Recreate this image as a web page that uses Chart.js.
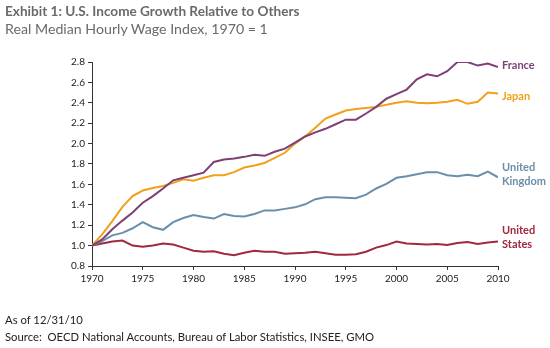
<!DOCTYPE html>
<html><head><meta charset="utf-8">
<script src="https://cdn.jsdelivr.net/npm/chart.js@4"></script>
<style>
html,body{margin:0;padding:0;background:#fff;}
#wrap{position:relative;width:550px;height:348px;overflow:hidden;font-family:Lato,"Open Sans",sans-serif;}
canvas{position:absolute;left:0;top:0;}
.t{position:absolute;left:5px;white-space:nowrap;}
</style></head>
<body><div id="wrap">
<canvas id="c" width="550" height="348"></canvas>
<div class="t" style="top:3px;font-size:13.6px;font-weight:bold;color:#6a6a6a;">Exhibit 1: U.S. Income Growth Relative to Others</div>
<div class="t" style="top:20px;font-size:14.2px;color:#6a6a6a;">Real Median Hourly Wage Index, 1970 = 1</div>
<div class="t" style="top:313px;font-size:11.3px;color:#222;">As of 12/31/10</div>
<div class="t" style="top:330px;font-size:11.3px;color:#222;">Source:&nbsp; OECD National Accounts, Bureau of Labor Statistics, INSEE, GMO</div>
</div>
<script>
const years = [1970,1971,1972,1973,1974,1975,1976,1977,1978,1979,1980,1981,1982,1983,1984,1985,1986,1987,1988,1989,1990,1991,1992,1993,1994,1995,1996,1997,1998,1999,2000,2001,2002,2003,2004,2005,2006,2007,2008,2009,2010];
const france = [1.00,1.06,1.16,1.245,1.325,1.42,1.485,1.56,1.64,1.665,1.69,1.715,1.82,1.845,1.855,1.87,1.89,1.88,1.92,1.95,2.01,2.07,2.11,2.145,2.19,2.235,2.235,2.295,2.36,2.44,2.485,2.53,2.63,2.68,2.66,2.71,2.80,2.80,2.765,2.785,2.75];
const japan = [1.00,1.11,1.24,1.38,1.485,1.54,1.565,1.585,1.615,1.65,1.635,1.665,1.69,1.69,1.72,1.765,1.785,1.81,1.86,1.91,2.00,2.07,2.155,2.245,2.285,2.325,2.34,2.35,2.36,2.38,2.40,2.415,2.40,2.395,2.40,2.41,2.43,2.39,2.41,2.50,2.49];
const uk = [1.00,1.045,1.10,1.125,1.17,1.23,1.18,1.155,1.23,1.27,1.30,1.28,1.265,1.31,1.29,1.285,1.31,1.345,1.345,1.36,1.375,1.405,1.455,1.475,1.475,1.47,1.465,1.50,1.56,1.605,1.665,1.68,1.70,1.72,1.72,1.69,1.68,1.695,1.68,1.725,1.67];
const us = [1.00,1.02,1.04,1.05,1.00,0.99,1.00,1.02,1.01,0.98,0.95,0.94,0.945,0.92,0.905,0.93,0.95,0.94,0.94,0.92,0.925,0.93,0.94,0.925,0.91,0.91,0.915,0.94,0.98,1.005,1.04,1.02,1.015,1.01,1.015,1.005,1.025,1.035,1.015,1.03,1.04];
const seriesNames = ["France","Japan","United Kingdom","United States"];
const seriesLabels = [["France"],["Japan"],["United","Kingdom"],["United","States"]];
const colors = ["#7e3f75","#f2a01c","#6a8fab","#a1283d"];
const labelOffsets = [-2, 3, -3, -4];
const xTicks = [1970,1975,1980,1985,1990,1995,2000,2005,2010];
const yTicks = [0.8,1.0,1.2,1.4,1.6,1.8,2.0,2.2,2.4,2.6,2.8];

const allSeries = [france, japan, uk, us];
const datasets = allSeries.map((s,i)=>({
  label: seriesNames[i],
  data: years.map((y,j)=>({x:y,y:s[j]})),
  borderColor: colors[i],
  backgroundColor: colors[i],
  borderWidth: 2,
  pointRadius: 0,
  tension: 0,
  fill: false
}));

const endLabels = {
  id:'endLabels',
  afterDatasetsDraw(chart){
    const ctx = chart.ctx;
    const xs = chart.scales.x, ys = chart.scales.y;
    ctx.save();
    ctx.font = 'bold 11px Lato, "Open Sans", sans-serif';
    ctx.textBaseline = 'middle';
    ctx.textAlign = 'left';
    allSeries.forEach((s,i)=>{
      const last = s[s.length-1];
      const px = xs.getPixelForValue(years[years.length-1]) + 4;
      const lines = seriesLabels[i];
      const lh = 14;
      let py = ys.getPixelForValue(last) + labelOffsets[i] - (lines.length-1)*lh/2;
      ctx.fillStyle = colors[i];
      lines.forEach((l,k)=>ctx.fillText(l, px, py + k*lh));
    });
    ctx.restore();
  }
};

new Chart(document.getElementById('c'), {
  type:'line',
  data:{datasets},
  options:{
    responsive:false,
    animation:false,
    layout:{padding:{left:0,right:52,top:62,bottom:0}},
    plugins:{legend:{display:false},tooltip:{enabled:false},title:{display:false}},
    scales:{
      x:{
        type:'linear', min:1970, max:2010,
        afterBuildTicks(scale){ scale.ticks = xTicks.map(v=>({value:v})); },
        afterFit(scale){ scale.height = 82; },
        grid:{display:true, drawOnChartArea:false, drawTicks:true, tickLength:4, color:'#333'},
        border:{display:true, color:'#333', width:1},
        ticks:{color:'#222', font:{size:10, family:'Lato, "Open Sans", sans-serif'}, padding:3, maxRotation:0, callback:v=>String(v)}
      },
      y:{
        min:0.8, max:2.8,
        afterBuildTicks(scale){ scale.ticks = yTicks.map(v=>({value:v})); },
        afterFit(scale){ scale.width = 92; },
        grid:{display:true, drawOnChartArea:false, drawTicks:true, tickLength:4, color:'#333'},
        border:{display:true, color:'#333', width:1},
        ticks:{color:'#222', font:{size:10, family:'Lato, "Open Sans", sans-serif'}, padding:3, callback:v=>Number(v).toFixed(1)}
      }
    }
  },
  plugins:[endLabels]
});
</script>
</body></html>
